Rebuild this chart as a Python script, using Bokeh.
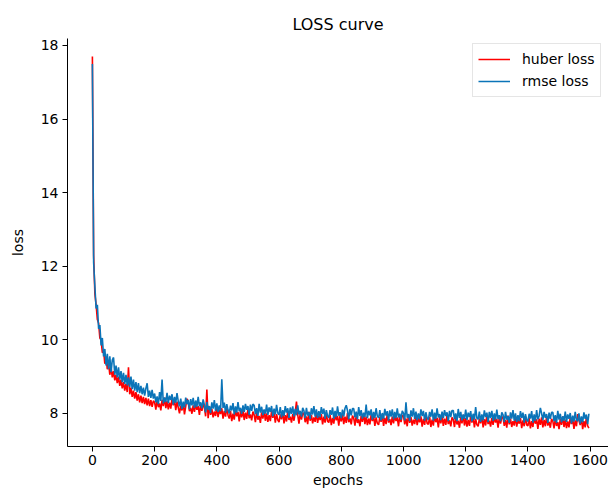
from bokeh.plotting import figure
from bokeh.models import Range1d, Legend, LegendItem
from bokeh.embed import file_html
from bokeh.resources import INLINE

FONT = "DejaVu Sans"

# epochs sampled every 4 epochs
epochs_early = list(range(0, 200, 4))
epochs_late = list(range(200, 1600, 4))

rmse_early = [
    17.50, 12.10, 11.45, 10.85, 10.95, 10.30, 10.40, 9.85, 10.05, 9.55,
    9.75, 9.30, 9.62, 9.20, 9.55, 9.12, 9.45, 9.52, 9.05, 9.30,
    8.98, 9.25, 8.92, 9.15, 8.85, 9.10, 8.80, 9.05, 8.76, 8.98,
    8.72, 9.00, 8.66, 8.92, 8.62, 8.85, 8.58, 8.82, 8.55, 8.75,
    8.52, 8.70, 8.48, 8.68, 8.82, 8.45, 8.62, 8.42, 8.64, 8.40,
]
huber_early = [
    17.70, 12.30, 11.25, 10.95, 10.55, 10.45, 10.05, 10.00, 9.65, 9.70,
    9.35, 9.50, 9.20, 9.38, 9.05, 9.25, 8.98, 9.15, 8.90, 9.05,
    8.82, 9.00, 8.75, 8.92, 8.68, 8.85, 8.62, 8.80, 8.58, 9.25,
    8.52, 8.70, 8.45, 8.62, 8.40, 8.58, 8.35, 8.52, 8.30, 8.48,
    8.28, 8.45, 8.25, 8.42, 8.22, 8.40, 8.20, 8.36, 8.18, 8.34,
]
rmse_late = [
    8.54, 8.30, 8.46, 8.25, 8.58, 8.34, 8.92, 8.27, 8.43, 8.31,
    8.56, 8.28, 8.48, 8.36, 8.52, 8.24, 8.45, 8.29, 8.55, 8.33,
    8.19, 8.40, 8.12, 8.32, 8.16, 8.43, 8.25, 8.37, 8.11, 8.39,
    8.22, 8.42, 8.15, 8.35, 8.18, 8.45, 8.20, 8.30, 8.14, 8.38,
    8.23, 8.03, 8.31, 8.10, 8.20, 8.01, 8.30, 8.13, 8.36, 8.07,
    8.27, 8.04, 8.22, 8.06, 8.93, 8.15, 8.29, 8.02, 8.25, 8.09,
    8.00, 8.21, 8.08, 8.28, 7.97, 8.19, 8.02, 8.31, 8.06, 8.15,
    7.99, 8.22, 8.04, 8.26, 8.10, 8.20, 7.96, 8.24, 8.07, 8.25,
    8.22, 7.98, 8.14, 7.93, 8.26, 8.02, 8.18, 7.95, 8.11, 7.99,
    8.24, 7.96, 8.16, 8.04, 8.20, 7.92, 8.13, 7.97, 8.23, 8.01,
    7.96, 8.17, 7.89, 8.09, 7.93, 8.20, 8.02, 8.14, 7.88, 8.16,
    7.99, 8.19, 7.92, 8.12, 7.95, 8.22, 7.97, 8.07, 7.91, 8.15,
    8.07, 7.87, 8.15, 7.94, 8.04, 7.85, 8.14, 7.97, 8.20, 7.91,
    8.11, 7.88, 8.06, 7.90, 8.17, 7.99, 8.13, 7.86, 8.09, 7.93,
    7.88, 8.09, 7.96, 8.16, 7.85, 8.07, 7.90, 8.19, 7.94, 8.03,
    7.87, 8.10, 7.92, 8.14, 8.22, 8.08, 7.84, 8.12, 7.95, 8.13,
    8.13, 7.89, 8.05, 7.84, 8.17, 7.93, 8.09, 7.86, 8.02, 7.90,
    8.24, 7.87, 8.07, 7.95, 8.11, 7.83, 8.04, 7.88, 8.14, 7.92,
    7.88, 8.09, 7.81, 8.01, 7.85, 8.12, 7.94, 8.06, 7.80, 8.08,
    7.91, 8.11, 7.84, 8.04, 7.87, 8.14, 7.89, 7.99, 7.83, 8.07,
    8.01, 7.81, 8.30, 7.88, 7.98, 7.79, 8.08, 7.91, 8.14, 7.85,
    8.05, 7.82, 8.00, 7.84, 8.11, 7.93, 8.07, 7.80, 8.03, 7.87,
    7.83, 8.04, 7.91, 8.11, 7.80, 8.02, 7.85, 8.14, 7.89, 7.98,
    7.82, 8.05, 7.87, 8.09, 7.93, 8.03, 7.79, 8.07, 7.90, 8.08,
    8.08, 7.84, 8.00, 7.79, 8.12, 7.88, 8.04, 7.81, 7.97, 7.85,
    8.10, 7.82, 8.02, 7.90, 8.06, 7.78, 7.99, 7.83, 8.17, 7.87,
    7.84, 8.05, 7.77, 7.97, 7.81, 8.08, 7.90, 8.02, 7.76, 8.04,
    7.87, 8.07, 7.80, 8.00, 7.83, 8.10, 7.85, 7.95, 7.79, 8.03,
    7.96, 7.76, 8.04, 7.83, 7.93, 7.74, 8.03, 7.86, 8.09, 7.80,
    8.00, 7.77, 7.95, 7.79, 8.06, 7.88, 8.02, 7.75, 7.98, 7.82,
    7.78, 7.99, 7.86, 8.06, 7.75, 7.97, 7.80, 8.09, 7.84, 7.93,
    8.15, 8.00, 7.82, 8.04, 7.88, 7.98, 7.74, 8.02, 7.85, 8.03,
    8.03, 7.79, 7.95, 7.74, 8.07, 7.83, 7.99, 7.76, 7.92, 7.80,
    8.05, 7.77, 7.97, 7.85, 8.01, 7.73, 7.94, 7.78, 8.04, 7.82,
    7.79, 8.00, 7.72, 7.92, 7.76, 8.03, 7.85, 7.97, 7.71, 7.99,
]
huber_late = [
    8.30, 8.10, 8.38, 8.17, 8.27, 8.08, 8.37, 8.20, 8.43, 8.14,
    8.34, 8.11, 8.29, 8.13, 8.40, 8.22, 8.36, 8.09, 8.32, 8.16,
    8.00, 8.21, 8.08, 8.28, 7.97, 8.19, 8.40, 8.31, 8.06, 8.15,
    7.99, 8.22, 8.04, 8.26, 8.10, 8.20, 7.96, 8.24, 8.07, 8.25,
    8.16, 7.92, 8.65, 7.87, 8.20, 7.96, 8.12, 7.89, 8.05, 7.93,
    8.18, 7.90, 8.10, 7.98, 8.14, 7.86, 8.07, 7.91, 8.17, 7.95,
    7.86, 8.07, 7.79, 7.99, 7.83, 8.10, 7.92, 8.04, 7.78, 8.06,
    7.89, 8.09, 7.82, 8.02, 7.85, 8.12, 7.87, 7.97, 7.81, 8.05,
    7.96, 7.76, 8.04, 7.83, 7.93, 7.74, 8.03, 7.86, 8.09, 7.80,
    8.00, 7.77, 7.95, 7.79, 8.06, 7.88, 8.02, 7.75, 7.98, 7.82,
    7.76, 7.97, 7.84, 8.04, 7.73, 7.95, 7.78, 8.07, 7.82, 7.91,
    7.75, 7.98, 7.80, 8.02, 8.32, 7.96, 7.72, 8.00, 7.83, 8.01,
    8.00, 7.76, 7.92, 7.71, 8.04, 7.80, 7.96, 7.73, 7.89, 7.77,
    8.02, 7.74, 7.94, 7.82, 7.98, 7.70, 7.91, 7.75, 8.01, 7.79,
    7.75, 7.96, 7.68, 7.88, 7.72, 7.99, 7.81, 7.93, 7.67, 7.95,
    7.78, 7.98, 7.71, 7.91, 7.74, 8.01, 7.76, 7.86, 7.70, 7.94,
    7.87, 7.67, 7.95, 7.74, 7.84, 7.65, 7.94, 7.77, 8.00, 7.71,
    7.91, 7.68, 7.86, 7.70, 7.97, 7.79, 7.93, 7.66, 7.89, 7.73,
    7.69, 7.90, 7.77, 7.97, 7.66, 7.88, 7.71, 8.00, 7.75, 7.84,
    7.68, 7.91, 7.73, 7.95, 7.79, 7.89, 7.65, 7.93, 7.76, 7.94,
    7.94, 7.70, 7.86, 7.65, 7.98, 7.74, 7.90, 7.67, 7.83, 7.71,
    7.96, 7.68, 7.88, 7.76, 7.92, 7.64, 7.85, 7.69, 7.95, 7.73,
    7.70, 7.91, 7.63, 7.83, 7.67, 7.94, 7.76, 7.88, 7.62, 7.90,
    7.73, 7.93, 7.66, 7.86, 7.69, 7.96, 7.71, 7.81, 7.65, 7.89,
    7.83, 7.63, 7.91, 7.70, 7.80, 7.61, 7.90, 7.73, 7.96, 7.67,
    7.87, 7.64, 7.82, 7.66, 7.93, 7.75, 7.89, 7.62, 7.85, 7.69,
    7.65, 7.86, 7.73, 7.93, 7.62, 7.84, 7.67, 7.96, 7.71, 7.80,
    7.64, 7.87, 7.69, 7.91, 7.75, 7.85, 7.61, 7.89, 7.72, 7.90,
    7.90, 7.66, 7.82, 7.61, 7.94, 7.70, 7.86, 7.63, 7.79, 7.67,
    7.92, 7.64, 7.84, 7.72, 7.88, 7.60, 7.81, 7.65, 7.91, 7.69,
    7.66, 7.87, 7.59, 7.79, 7.63, 7.90, 7.72, 7.84, 7.58, 7.86,
    7.69, 7.89, 7.62, 7.82, 7.65, 7.92, 7.67, 7.77, 7.61, 7.85,
    7.79, 7.59, 7.87, 7.66, 7.76, 7.57, 7.86, 7.69, 7.92, 7.63,
    7.83, 7.60, 7.78, 7.62, 7.89, 7.71, 7.85, 7.58, 7.81, 7.65,
    7.98, 7.81, 7.68, 7.88, 7.57, 7.79, 7.62, 7.91, 7.66, 7.60,
]

x_ticks = [0, 200, 400, 600, 800, 1000, 1200, 1400, 1600]
y_ticks = [8, 10, 12, 14, 16, 18]

epochs = epochs_early + epochs_late
rmse = rmse_early + rmse_late
huber = huber_early + huber_late
n = min(len(epochs), len(rmse), len(huber))
epochs, rmse, huber = epochs[:n], rmse[:n], huber[:n]

p = figure(width=608, height=493, output_backend="svg", toolbar_location=None,
           x_range=Range1d(-80, 1659), y_range=Range1d(7.1, 18.19),
           min_border_left=67, min_border_right=0, min_border_top=38,
           min_border_bottom=47, title="LOSS curve")
p.background_fill_color = "white"
p.border_fill_color = "white"
p.outline_line_color = None
p.grid.visible = False

p.title.align = "center"
p.title.text_font = FONT
p.title.text_font_size = "16px"
p.title.text_font_style = "normal"
p.title.text_color = "black"

r_h = p.line(epochs, huber, line_color="#ff0000", line_width=1.6)
r_r = p.line(epochs, rmse, line_color="#0b74b8", line_width=1.6)

for ax in (p.xaxis[0], p.yaxis[0]):
    ax.axis_line_color = "black"
    ax.axis_line_width = 1
    ax.major_tick_line_color = "black"
    ax.major_tick_out = 5
    ax.major_tick_in = 0
    ax.minor_tick_line_color = None
    ax.major_label_text_font = FONT
    ax.major_label_text_font_size = "14px"
    ax.major_label_text_color = "black"
    ax.axis_label_text_font = FONT
    ax.axis_label_text_font_size = "14px"
    ax.axis_label_text_font_style = "normal"
    ax.axis_label_text_color = "black"

p.xaxis.ticker = x_ticks
p.yaxis.ticker = y_ticks
p.xaxis.axis_label = "epochs"
p.yaxis.axis_label = "loss"
p.xaxis.major_label_standoff = 3
p.yaxis.major_label_standoff = 4
p.xaxis.axis_label_standoff = 4
p.yaxis.axis_label_standoff = 12

legend = Legend(items=[LegendItem(label="huber loss", renderers=[r_h]),
                       LegendItem(label="rmse loss", renderers=[r_r])],
                location=(405, 349))
legend.label_text_font = FONT
legend.label_text_font_size = "14px"
legend.label_text_color = "black"
legend.glyph_width = 32
legend.glyph_height = 20
legend.label_height = 20
legend.label_standoff = 12
legend.spacing = 2
legend.padding = 5
legend.margin = 0
legend.border_line_color = "#cccccc"
legend.border_line_width = 1
legend.background_fill_alpha = 0.8
p.add_layout(legend, "center")

open("out.html", "w").write(file_html(p, INLINE))
